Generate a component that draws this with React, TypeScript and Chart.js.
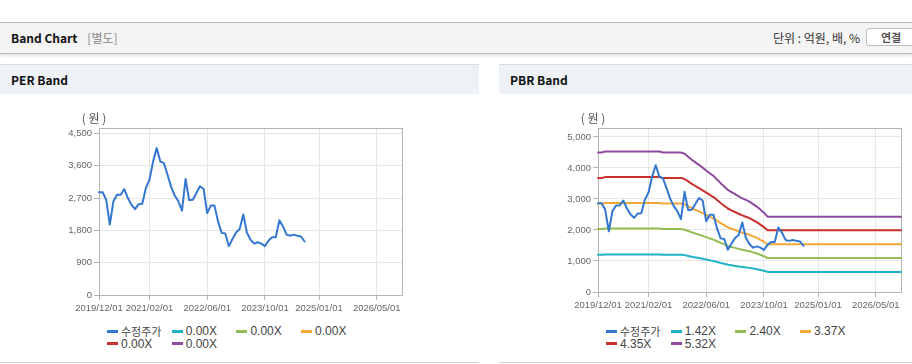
import React, { useEffect, useRef } from "react";
import { Chart, registerables } from "chart.js";

Chart.register(...registerables);

// ---------- data ----------
const months: string[] = [
  "2019/12/01",
  "2020/01/01", "2020/02/01", "2020/03/01", "2020/04/01", "2020/05/01", "2020/06/01",
  "2020/07/01", "2020/08/01", "2020/09/01", "2020/10/01", "2020/11/01", "2020/12/01",
  "2021/01/01", "2021/02/01", "2021/03/01", "2021/04/01", "2021/05/01", "2021/06/01",
  "2021/07/01", "2021/08/01", "2021/09/01", "2021/10/01", "2021/11/01", "2021/12/01",
  "2022/01/01", "2022/02/01", "2022/03/01", "2022/04/01", "2022/05/01", "2022/06/01",
  "2022/07/01", "2022/08/01", "2022/09/01", "2022/10/01", "2022/11/01", "2022/12/01",
  "2023/01/01", "2023/02/01", "2023/03/01", "2023/04/01", "2023/05/01", "2023/06/01",
  "2023/07/01", "2023/08/01", "2023/09/01", "2023/10/01", "2023/11/01", "2023/12/01",
  "2024/01/01", "2024/02/01", "2024/03/01", "2024/04/01", "2024/05/01", "2024/06/01",
  "2024/07/01", "2024/08/01", "2024/09/01", "2024/10/01", "2024/11/01", "2024/12/01",
  "2025/01/01", "2025/02/01", "2025/03/01", "2025/04/01", "2025/05/01", "2025/06/01",
  "2025/07/01", "2025/08/01", "2025/09/01", "2025/10/01", "2025/11/01", "2025/12/01",
  "2026/01/01", "2026/02/01", "2026/03/01", "2026/04/01", "2026/05/01", "2026/06/01",
  "2026/07/01", "2026/08/01", "2026/09/01", "2026/10/01", "2026/11/01", "2026/12/01",
];

const xTickLabels: string[] = [
  "2019/12/01", "2021/02/01", "2022/06/01", "2023/10/01", "2025/01/01", "2026/05/01",
];

const perYTicks: number[] = [0, 900, 1800, 2700, 3600, 4500];
const pbrYTicks: number[] = [0, 1000, 2000, 3000, 4000, 5000];

// 수정주가 (adjusted price), monthly
const adjustedPrice: number[] = [
  2860, 2860, 2650, 1960, 2610, 2790, 2790, 2950, 2700, 2510, 2390, 2530, 2540,
  2980, 3210, 3720, 4090, 3720, 3670, 3350, 3010, 2770, 2610, 2350, 3230, 2640,
  2650, 2840, 3030, 2950, 2280, 2490, 2490, 2050, 1730, 1710, 1360, 1560, 1740,
  1840, 2240, 1740, 1540, 1430, 1470, 1430, 1360, 1520, 1610, 1610, 2080, 1910,
  1680, 1650, 1680, 1650, 1630, 1490,
];

// BPS used for the PBR band, monthly
const bps: number[] = [
  846, 846, 852, 852, 852, 852, 852, 852, 852, 852, 852, 852, 852, 852, 852, 852,
  852, 852, 846, 846, 846, 846, 846, 846, 838, 820, 802, 786, 771, 754, 737, 720,
  704, 682, 660, 640, 619, 606, 593, 580, 568, 558, 548, 533, 518, 500, 481, 457,
  457, 457, 457, 457, 457, 457, 457, 457, 457, 457, 457, 457, 457, 457, 457, 457,
  457, 457, 457, 457, 457, 457, 457, 457, 457, 457, 457, 457, 457, 457, 457, 457,
  457, 457, 457, 457, 457,
];

const perMultiples: number[] = [0, 0, 0, 0, 0];
const pbrMultiples: number[] = [1.42, 2.40, 3.37, 4.35, 5.32];

const priceLabel = "수정주가";
const priceColor = "#3477d0";
const bandColors: string[] = ["#22b3c6", "#93bd52", "#f3a737", "#c9322c", "#8e4b9e"];

const perYMax = 4650;
const pbrYMax = 5290;

// ---------- chart helpers ----------
const tickFont = { family: '"Liberation Sans", Arial, sans-serif', size: 9.5 };

const framePlugin = {
  id: "frame",
  beforeDatasetsDraw(chart: any) {
    const { ctx, chartArea: a } = chart;
    ctx.save();
    ctx.strokeStyle = "#b4b4b4";
    ctx.lineWidth = 1;
    ctx.strokeRect(
      Math.round(a.left) + 0.5,
      Math.round(a.top) + 0.5,
      Math.round(a.right) - Math.round(a.left),
      Math.round(a.bottom) - Math.round(a.top)
    );
    ctx.restore();
  },
  afterDraw(chart: any) {
    const { ctx, chartArea: a } = chart;
    ctx.save();
    ctx.font = '12px "Noto Sans CJK KR", sans-serif';
    ctx.fillStyle = "#555";
    ctx.textAlign = "center";
    ctx.textBaseline = "middle";
    ctx.fillText("( 원 )", a.left - 5, a.top - 10);
    ctx.restore();
  },
};

type LegendItem = { label: string; color: string };

function buildDatasets(multiples: number[], base: number[] | null) {
  const ds: any[] = [
    {
      label: priceLabel,
      data: adjustedPrice,
      borderColor: priceColor,
      backgroundColor: priceColor,
      borderWidth: 2,
    },
  ];
  multiples.forEach((m, i) => {
    ds.push({
      label: m.toFixed(2) + "X",
      data: base ? base.map((b) => Math.round(b * m)) : [],
      borderColor: bandColors[i],
      backgroundColor: bandColors[i],
      borderWidth: 2,
    });
  });
  return ds;
}

function BandChart(props: {
  datasets: any[];
  yMax: number;
  yTicks: number[];
  xAxisHeight: number;
  width: number;
  height: number;
}) {
  const ref = useRef<HTMLCanvasElement | null>(null);
  useEffect(() => {
    if (!ref.current) return;
    const chart = new Chart(ref.current, {
      type: "line",
      data: { labels: months, datasets: props.datasets },
      options: {
        animation: false,
        responsive: false,
        maintainAspectRatio: false,
        layout: { padding: { left: 59, right: 77, top: 34, bottom: 0 } },
        plugins: { legend: { display: false }, tooltip: { enabled: false } },
        elements: {
          point: { radius: 0 },
          line: { tension: 0, borderJoinStyle: "round", borderCapStyle: "round" },
        },
        scales: {
          x: {
            type: "category",
            offset: false,
            grid: { color: "#e6e6e6", tickColor: "#b4b4b4", tickLength: 5 },
            border: { color: "#b4b4b4" },
            ticks: { autoSkip: false, maxRotation: 0, padding: 3, color: "#666", font: tickFont },
            afterBuildTicks: (s: any) => {
              s.ticks = s.ticks.filter((t: any) => xTickLabels.includes(months[t.value]));
            },
            afterFit: (s: any) => {
              s.height = props.xAxisHeight;
            },
          },
          y: {
            min: 0,
            max: props.yMax,
            grid: { color: "#e6e6e6", tickColor: "#b4b4b4", tickLength: 5 },
            border: { color: "#b4b4b4" },
            ticks: { padding: 2, color: "#666", font: tickFont },
            afterBuildTicks: (s: any) => {
              s.ticks = props.yTicks.map((v) => ({ value: v }));
            },
            afterFit: (s: any) => {
              s.width = 40;
            },
          },
        },
      } as any,
      plugins: [framePlugin],
    });
    return () => chart.destroy();
  }, []);
  return (
    <canvas
      ref={ref}
      width={props.width}
      height={props.height}
      style={{ display: "block", width: props.width, height: props.height }}
    />
  );
}

function Legend(props: { items: LegendItem[] }) {
  return (
    <>
      {props.items.map((it, i) => {
        const row = Math.floor(i / 4);
        const col = i % 4;
        const korean = /[^\x00-\x7f]/.test(it.label);
        return (
          <div
            key={i}
            style={{
              position: "absolute",
              left: 107 + col * 64.7,
              top: 324.5 + row * 12.6,
              height: 13,
              display: "flex",
              alignItems: "center",
              whiteSpace: "nowrap",
              color: "#444",
              fontFamily: korean ? '"Noto Sans CJK KR", sans-serif' : '"Liberation Sans", Arial, sans-serif',
              fontSize: korean ? 11 : 12,
            }}
          >
            <span
              style={{ display: "inline-block", width: 11, height: 3, background: it.color, marginRight: 3 }}
            />
            <span>{it.label}</span>
          </div>
        );
      })}
    </>
  );
}

function Panel(props: {
  left: number;
  title: string;
  datasets: any[];
  yMax: number;
  yTicks: number[];
  xAxisHeight: number;
}) {
  const items: LegendItem[] = props.datasets.map((d: any) => ({ label: d.label, color: d.borderColor }));
  return (
    <div style={{ position: "absolute", left: props.left, top: 0, width: 479, height: 364 }}>
      <div
        style={{
          position: "absolute",
          left: 0,
          top: 64,
          width: 479,
          height: 29,
          borderTop: "1px solid #d9dde2",
          background: "#eef2f7",
        }}
      >
        <div
          style={{
            position: "absolute",
            left: 11,
            top: 6,
            fontSize: 12,
            fontWeight: 700,
            color: "#111",
            fontFamily: '"Noto Sans CJK KR", sans-serif',
            lineHeight: "17px",
          }}
        >
          {props.title}
        </div>
      </div>
      <div style={{ position: "absolute", left: 0, top: 94 }}>
        <BandChart
          datasets={props.datasets}
          yMax={props.yMax}
          yTicks={props.yTicks}
          xAxisHeight={props.xAxisHeight}
          width={479}
          height={226}
        />
      </div>
      <Legend items={items} />
      <div style={{ position: "absolute", left: 0, top: 362, width: 479, height: 1, background: "#d0d0d0" }} />
    </div>
  );
}

export default function App() {
  useEffect(() => {
    document.body.style.margin = "0";
  }, []);
  const perDatasets = buildDatasets(perMultiples, null);
  const pbrDatasets = buildDatasets(pbrMultiples, bps);
  return (
    <div
      style={{
        position: "relative",
        width: 912,
        height: 364,
        overflow: "hidden",
        background: "#fff",
        fontFamily: '"Noto Sans CJK KR", sans-serif',
      }}
    >
      {/* top header bar */}
      <div
        style={{
          position: "absolute",
          left: 0,
          top: 22,
          width: 912,
          height: 30,
          background: "#f4f4f4",
          borderTop: "1px solid #b9b9b9",
          borderBottom: "1px solid #b9b9b9",
          boxShadow: "0 2px 3px rgba(0,0,0,0.12)",
        }}
      >
        <div
          style={{
            position: "absolute",
            left: 11,
            top: 6,
            fontSize: 12,
            fontWeight: 700,
            color: "#111",
            lineHeight: "18px",
            whiteSpace: "nowrap",
          }}
        >
          Band Chart
          <span style={{ fontWeight: 400, color: "#888", fontSize: 12, marginLeft: 10 }}>[별도]</span>
        </div>
        <div
          style={{
            position: "absolute",
            right: 52,
            top: 7,
            fontSize: 12,
            color: "#333",
            lineHeight: "16px",
            whiteSpace: "nowrap",
          }}
        >
          단위 : 억원, 배, %
        </div>
        <div
          style={{
            position: "absolute",
            left: 866,
            top: 5,
            width: 60,
            height: 18,
            border: "1px solid #bdbdbd",
            borderRadius: 3,
            background: "#fff",
            boxSizing: "border-box",
          }}
        >
          <span
            style={{
              position: "absolute",
              left: 14,
              top: 0,
              fontSize: 11,
              fontWeight: 700,
              color: "#555",
              lineHeight: "17px",
              whiteSpace: "nowrap",
            }}
          >
            연결
          </span>
        </div>
      </div>

      <Panel left={0} title="PER Band" datasets={perDatasets} yMax={perYMax} yTicks={perYTicks} xAxisHeight={25} />
      <Panel left={499} title="PBR Band" datasets={pbrDatasets} yMax={pbrYMax} yTicks={pbrYTicks} xAxisHeight={28} />
    </div>
  );
}
